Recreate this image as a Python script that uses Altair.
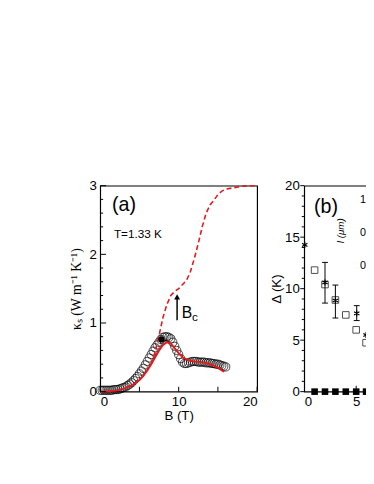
import altair as alt
import pandas as pd

# ---------------- panel (a) data ----------------
B_circ = [0, 0.25, 0.5, 0.75, 1, 1.25, 1.5, 1.75, 2, 2.25, 2.5, 2.75, 3, 3.25, 3.5, 3.75,
          4, 4.25, 4.5, 4.75, 5, 5.25, 5.5, 5.75, 6, 6.25, 6.5, 6.75, 7, 7.25, 7.5, 7.75,
          8, 8.25, 8.5, 8.75, 9, 9.25, 9.5, 9.75, 10, 10.25, 10.5, 10.75, 11, 11.25, 11.5,
          11.75, 12, 12.25, 12.5, 12.75, 13, 13.25, 13.5, 13.75, 14, 14.25, 14.5, 14.75,
          15, 15.25, 15.5, 15.75, 16]
k_circ = [0.02, 0.02, 0.02, 0.02, 0.02, 0.02, 0.02, 0.03, 0.03, 0.03, 0.04, 0.05, 0.06, 0.07,
          0.09, 0.11, 0.13, 0.16, 0.19, 0.22, 0.26, 0.30, 0.34, 0.39, 0.44, 0.49, 0.54, 0.59,
          0.64, 0.68, 0.72, 0.76, 0.79, 0.80, 0.80, 0.79, 0.77, 0.72, 0.66, 0.60, 0.54, 0.48,
          0.43, 0.41, 0.41, 0.42, 0.43, 0.44, 0.44, 0.44, 0.43, 0.43, 0.43, 0.43, 0.42, 0.42,
          0.42, 0.41, 0.41, 0.40, 0.40, 0.39, 0.38, 0.37, 0.36]

B_fit = [0, 1, 2, 3, 4, 5, 5.5, 6, 6.5, 7, 7.5, 8, 8.5, 9, 9.5, 10, 10.5, 11, 11.5, 12,
         13, 14, 15, 15.5, 15.8]
k_fit = [0.0, 0.005, 0.015, 0.04, 0.09, 0.17, 0.23, 0.31, 0.40, 0.50, 0.60, 0.68, 0.72,
         0.70, 0.63, 0.56, 0.50, 0.47, 0.45, 0.44, 0.43, 0.40, 0.35, 0.31, 0.29]

B_dash = [6.5, 7.0, 7.5, 8.0, 8.5, 9.0, 9.5, 10.0, 10.5, 11.0, 11.5, 12.0, 12.5, 13.0,
          13.5, 14.0, 14.5, 15.0, 15.5, 16.0, 17.0, 18.0, 19.0, 20.0]
k_dash = [0.40, 0.58, 0.82, 1.08, 1.27, 1.40, 1.46, 1.50, 1.56, 1.62, 1.75, 1.94, 2.16,
          2.40, 2.60, 2.72, 2.79, 2.87, 2.92, 2.95, 2.97, 2.99, 3.0, 3.0]

B_solid = [7.8]
k_solid = [0.76]

arrow_B = [9.8]
arrow_lo = [1.04]
arrow_hi = [1.38]

xa_major = [0, 5, 10, 15, 20]
ya_major = [0, 1, 2, 3]
ya_minor = [0.2, 0.4, 0.6, 0.8, 1.2, 1.4, 1.6, 1.8, 2.2, 2.4, 2.6, 2.8]

# ---------------- panel (b) data ----------------
B_sq = [1, 2, 3, 4, 5, 5.95]
D_sq = [11.8, 10.4, 8.9, 7.45, 6.0, 4.75]
B_star = [0.05, 2, 3, 5.05, 5.95]
D_star = [14.25, 10.6, 8.85, 7.6, 5.5]
B_err = [2, 3, 5.05]
err_lo = [8.6, 7.15, 6.9]
err_hi = [12.55, 10.35, 8.35]
B_fsq = [1, 2, 3, 4, 5, 5.95]
D_fsq = [0, 0, 0, 0, 0, 0]

xb_major = [5]
yb_major = [0, 5, 10, 15, 20]
yb_minor = [1, 2, 3, 4, 6, 7, 8, 9, 11, 12, 13, 14, 16, 17, 18, 19]

inset_vals = [1.0, 0.5, 0.0]
inset_labels = ["1.0", "0.5", "0.0"]

SANS = "Liberation Sans"
SERIF = "Liberation Serif"
RED = "#e3191c"
FS = 13.5

WA, HA = 160, 210
WB, HB = 70, 210


def tick_rules(vals, scale, channel, a, b, no_axis=False):
    df = pd.DataFrame({"v": vals})
    m = alt.Chart(df).mark_rule(color="black", strokeWidth=1)
    if channel == "y":
        yy = alt.Y("v:Q", scale=scale, axis=None) if no_axis else alt.Y("v:Q", scale=scale)
        return m.encode(y=yy, x=alt.value(a), x2=alt.value(b))
    return m.encode(x=alt.X("v:Q", scale=scale), y=alt.value(a), y2=alt.value(b))


# ---------------- panel (a) ----------------
xa = alt.Scale(domain=[0, 20], nice=False, zero=False)
ya = alt.Scale(domain=[0, 3], nice=False, zero=False)

circ_df = pd.DataFrame({"B": B_circ, "k": k_circ})
fit_df = pd.DataFrame({"B": B_fit, "k": k_fit})
dash_df = pd.DataFrame({"B": B_dash, "k": k_dash})
solid_df = pd.DataFrame({"B": B_solid, "k": k_solid})
arrow_df = pd.DataFrame({"B": arrow_B, "lo": arrow_lo, "hi": arrow_hi})

lab_xa = alt.Axis(values=xa_major, format="d", ticks=False, domain=False, grid=False,
                  labelFont=SANS, labelFontSize=FS, labelColor="black", labelPadding=3,
                  title="B (T)", titleFont=SANS, titleFontSize=FS, titleFontWeight="normal",
                  titleColor="black", titlePadding=1)
lab_ya = alt.Axis(values=ya_major, format="d", ticks=False, domain=False, grid=False,
                  labelFont=SANS, labelFontSize=FS, labelColor="black", labelPadding=4,
                  title="κₛ   (W  m⁻¹ K⁻¹)", titleFont=SERIF, titleFontSize=14,
                  titleFontWeight="normal", titleColor="black", titlePadding=6)

circles = alt.Chart(circ_df).mark_point(shape="circle", filled=False, size=70,
                                        stroke="black", strokeWidth=1).encode(
    x=alt.X("B:Q", scale=xa, axis=lab_xa), y=alt.Y("k:Q", scale=ya, axis=lab_ya))
fit = alt.Chart(fit_df).mark_line(color=RED, strokeWidth=2).encode(
    x=alt.X("B:Q", scale=xa), y=alt.Y("k:Q", scale=ya))
dash = alt.Chart(dash_df).mark_line(color=RED, strokeWidth=1.6, strokeDash=[5, 3]).encode(
    x=alt.X("B:Q", scale=xa), y=alt.Y("k:Q", scale=ya))
solid = alt.Chart(solid_df).mark_point(shape="circle", filled=True, size=40, color="black",
                                       opacity=1).encode(
    x=alt.X("B:Q", scale=xa), y=alt.Y("k:Q", scale=ya))
arrow_line = alt.Chart(arrow_df).mark_rule(color="black", strokeWidth=1.5).encode(
    x=alt.X("B:Q", scale=xa), y=alt.Y("lo:Q", scale=ya), y2="hi:Q")
arrow_head = alt.Chart(arrow_df).mark_point(shape="triangle-up", filled=True, size=36,
                                            color="black", opacity=1).encode(
    x=alt.X("B:Q", scale=xa), y=alt.Y("hi:Q", scale=ya))
bc_df = pd.DataFrame({"B": [10.4], "k": [1.14], "t": ["B"], "s": ["c"]})
bc_B = alt.Chart(bc_df).mark_text(align="left", baseline="middle", font=SANS, fontSize=16,
                                  color="black").encode(
    x=alt.X("B:Q", scale=xa), y=alt.Y("k:Q", scale=ya), text="t:N")
bc_c = alt.Chart(bc_df).mark_text(align="left", baseline="middle", font=SANS, fontSize=12,
                                  color="black", dx=10.5, dy=4).encode(
    x=alt.X("B:Q", scale=xa), y=alt.Y("k:Q", scale=ya), text="s:N")
lab_a = alt.Chart(pd.DataFrame({"t": ["(a)"]})).mark_text(
    align="left", baseline="middle", font=SANS, fontSize=20, color="black").encode(
    x=alt.value(12), y=alt.value(20), text="t:N")
temp_a = alt.Chart(pd.DataFrame({"t": ["T=1.33 K"]})).mark_text(
    align="left", baseline="middle", font=SANS, fontSize=12, color="black").encode(
    x=alt.value(14), y=alt.value(49), text="t:N")

panel_a = alt.layer(
    circles, fit, dash, solid, arrow_line, arrow_head, bc_B, bc_c, lab_a, temp_a,
    tick_rules(ya_major, ya, "y", 0, 6),
    tick_rules(ya_minor, ya, "y", 0, 3),
    tick_rules(xa_major, xa, "x", HA, HA - 5),
).properties(width=WA, height=HA)

# ---------------- panel (b) ----------------
xb = alt.Scale(domain=[0, 70 / 10.6], nice=False, zero=False)
yb = alt.Scale(domain=[0, 20], nice=False, zero=False)
yi = alt.Scale(domain=[0, 1], range=[81.5, 14.5], nice=False, zero=False)

sq_df = pd.DataFrame({"B": B_sq, "D": D_sq})
star_df = pd.DataFrame({"B": B_star, "D": D_star})
err_df = pd.DataFrame({"B": B_err, "lo": err_lo, "hi": err_hi})
fsq_df = pd.DataFrame({"B": B_fsq, "D": D_fsq})

lab_xb = alt.Axis(values=[0, 5], format="d", ticks=False, domain=False, grid=False,
                  labelFont=SANS, labelFontSize=FS, labelColor="black", labelPadding=3,
                  title=None)
lab_yb = alt.Axis(values=yb_major, format="d", ticks=False, domain=False, grid=False,
                  labelFont=SANS, labelFontSize=FS, labelColor="black", labelPadding=5,
                  title="Δ (K)", titleFont=SANS, titleFontSize=FS, titleFontWeight="normal",
                  titleColor="black", titlePadding=1)

STAR = "M0,-1L0,1M-0.866,-0.5L0.866,0.5M-0.866,0.5L0.866,-0.5"

sq = alt.Chart(sq_df).mark_point(shape="square", filled=False, size=45, stroke="black",
                                 strokeWidth=1).encode(
    x=alt.X("B:Q", scale=xb, axis=lab_xb), y=alt.Y("D:Q", scale=yb, axis=lab_yb))
err_rule = alt.Chart(err_df).mark_rule(color="black", strokeWidth=1).encode(
    x=alt.X("B:Q", scale=xb), y=alt.Y("lo:Q", scale=yb, axis=None), y2="hi:Q")
cap_lo = alt.Chart(err_df).mark_tick(orient="horizontal", size=6, thickness=1,
                                     color="black", opacity=1).encode(
    x=alt.X("B:Q", scale=xb), y=alt.Y("lo:Q", scale=yb, axis=None))
cap_hi = alt.Chart(err_df).mark_tick(orient="horizontal", size=6, thickness=1,
                                     color="black", opacity=1).encode(
    x=alt.X("B:Q", scale=xb), y=alt.Y("hi:Q", scale=yb, axis=None))
stars = alt.Chart(star_df).mark_point(shape=STAR, filled=False, size=40, stroke="black",
                                      strokeWidth=1.2, opacity=1).encode(
    x=alt.X("B:Q", scale=xb), y=alt.Y("D:Q", scale=yb, axis=None))
fsq = alt.Chart(fsq_df).mark_point(shape="square", filled=True, size=45, color="black",
                                   opacity=1).encode(
    x=alt.X("B:Q", scale=xb), y=alt.Y("D:Q", scale=yb, axis=None))
lab_b = alt.Chart(pd.DataFrame({"t": ["(b)"]})).mark_text(
    align="left", baseline="middle", font=SANS, fontSize=20, color="black").encode(
    x=alt.value(10), y=alt.value(22), text="t:N")
inset_title = alt.Chart(pd.DataFrame({"t": ["l (μm)"]})).mark_text(
    align="center", baseline="middle", font=SANS, fontSize=10, fontStyle="italic",
    angle=270, color="black").encode(x=alt.value(38), y=alt.value(46), text="t:N")
inset_lab = alt.Chart(pd.DataFrame({"v": inset_vals, "t": inset_labels})).mark_text(
    align="left", baseline="middle", font=SANS, fontSize=11, color="black").encode(
    x=alt.value(57), y=alt.Y("v:Q", scale=yi, axis=None), text="t:N")

panel_b = alt.layer(
    sq, err_rule, cap_lo, cap_hi, stars, fsq, lab_b, inset_title,
    tick_rules(yb_major, yb, "y", -4, 0, no_axis=True),
    tick_rules(yb_minor, yb, "y", -2.5, 0, no_axis=True),
    tick_rules(xb_major, xb, "x", HB, HB - 6),
    inset_lab,
).resolve_scale(y="independent").properties(width=WB, height=HB)

chart = alt.hconcat(panel_a, panel_b, spacing=8).properties(
    padding={"left": 61, "top": 169, "right": -10, "bottom": 5},
    background="white",
).configure_view(stroke="black", strokeWidth=1.2)

chart.save("out.html", embed_options={"renderer": "svg", "actions": False})
